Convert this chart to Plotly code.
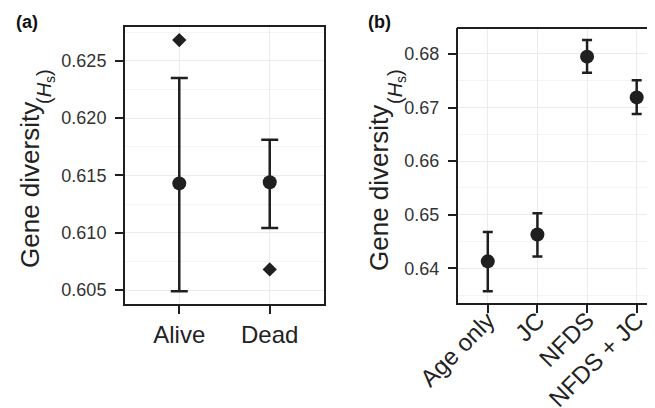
import plotly.graph_objects as go

# Panel (a)
cats_a = ["Alive", "Dead"]
mean_a = [0.6143, 0.6144]
lo_a = [0.6049, 0.6104]
hi_a = [0.6235, 0.6181]
obs_a = [0.6268, 0.6068]
ticks_a = [0.605, 0.610, 0.615, 0.620, 0.625]
ticklab_a = ["0.605", "0.610", "0.615", "0.620", "0.625"]

# Panel (b)
cats_b = ["Age only", "JC", "NFDS", "NFDS + JC"]
mean_b = [0.6413, 0.6463, 0.6795, 0.6719]
lo_b = [0.6357, 0.6422, 0.6765, 0.6688]
hi_b = [0.6468, 0.6503, 0.6826, 0.6751]
ticks_b = [0.64, 0.65, 0.66, 0.67, 0.68]
ticklab_b = ["0.64", "0.65", "0.66", "0.67", "0.68"]

W, H = 655, 408
DARK = "#1f1f1f"
FONT = "Liberation Sans, Arial, Helvetica, sans-serif"

fig = go.Figure()

fig.add_trace(go.Scatter(
    x=cats_a, y=mean_a, mode="markers",
    marker=dict(size=14, color=DARK),
    error_y=dict(type="data", symmetric=False,
                 array=[h - m for h, m in zip(hi_a, mean_a)],
                 arrayminus=[m - l for m, l in zip(mean_a, lo_a)],
                 color=DARK, thickness=2.5, width=8.5),
    xaxis="x", yaxis="y", showlegend=False))
fig.add_trace(go.Scatter(
    x=cats_a, y=obs_a, mode="markers",
    marker=dict(size=11, color=DARK, symbol="diamond"),
    xaxis="x", yaxis="y", showlegend=False))

fig.add_trace(go.Scatter(
    x=cats_b, y=mean_b, mode="markers",
    marker=dict(size=14, color=DARK),
    error_y=dict(type="data", symmetric=False,
                 array=[h - m for h, m in zip(hi_b, mean_b)],
                 arrayminus=[m - l for m, l in zip(mean_b, lo_b)],
                 color=DARK, thickness=2.5, width=5),
    xaxis="x2", yaxis="y2", showlegend=False))

def px(v):
    return v / W

def py(v):
    return 1 - v / H

grid_major = "#ebebeb"
grid_minor = "#f4f4f4"

common = dict(ticks="outside", ticklen=8, tickwidth=2, tickcolor=DARK,
              showgrid=True, gridcolor=grid_major, gridwidth=1,
              linecolor=DARK, linewidth=2, zeroline=False, automargin=False)

fig.update_layout(
    width=W, height=H,
    margin=dict(l=0, r=0, t=0, b=0, autoexpand=False),
    paper_bgcolor="white", plot_bgcolor="white",
    font=dict(family=FONT, color="#222222"),
    xaxis=dict(domain=[px(117), px(316)], range=[-0.6, 1.6], type="category",
               showline=True, mirror=True,
               tickfont=dict(size=24, color="#222222"), anchor="y", **common),
    yaxis=dict(domain=[py(296), py(19)], range=[0.60378, 0.62794],
               tickvals=ticks_a, ticktext=ticklab_a,
               showline=True, mirror=True, ticklabelstandoff=5,
               minor=dict(tickvals=[0.6075, 0.6125, 0.6175, 0.6225, 0.6275],
                          showgrid=True, gridcolor=grid_minor, gridwidth=1, ticks=""),
               tickfont=dict(size=18, color="#333333"), anchor="x", **common),
    xaxis2=dict(domain=[px(450), 1.0], range=[-0.6, 3.53], type="category",
                showline=True, mirror=False, tickangle=-45, ticklabelstandoff=-16,
                tickfont=dict(size=24, color="#222222"), anchor="y2", **common),
    yaxis2=dict(domain=[py(295), py(20)], range=[0.63353, 0.68485],
                tickvals=ticks_b, ticktext=ticklab_b,
                showline=True, mirror=False, ticklabelstandoff=5,
                minor=dict(tickvals=[0.635, 0.645, 0.655, 0.665, 0.675],
                           showgrid=True, gridcolor=grid_minor, gridwidth=1, ticks=""),
                tickfont=dict(size=18, color="#333333"), anchor="x2", **common),
    shapes=[dict(type="line", xref="paper", yref="paper",
                 x0=px(449), x1=1.0, y0=py(20), y1=py(20),
                 line=dict(color=DARK, width=2))],
)

title_main = "Gene diversity"
title_sub = "(<i>H</i><sub>s</sub>)"
for gx, gy, sx, sy in [(22, 177, 38, 79), (371, 180, 389, 79)]:
    fig.add_annotation(text=title_main, xref="paper", yref="paper",
                       x=px(gx), y=py(gy), textangle=-90, showarrow=False,
                       font=dict(size=26, color="#222222"),
                       xanchor="center", yanchor="middle")
    fig.add_annotation(text=title_sub, xref="paper", yref="paper",
                       x=px(sx), y=py(sy), textangle=-90, showarrow=False,
                       font=dict(size=20, color="#222222"),
                       xanchor="center", yanchor="middle")

fig.add_annotation(text="<b>(a)</b>", xref="paper", yref="paper",
                   x=px(6), y=py(2), showarrow=False, xanchor="left", yanchor="top",
                   font=dict(size=18, color="#111111"))
fig.add_annotation(text="<b>(b)</b>", xref="paper", yref="paper",
                   x=px(358), y=py(2), showarrow=False, xanchor="left", yanchor="top",
                   font=dict(size=18, color="#111111"))

fig.write_html("out.html")
